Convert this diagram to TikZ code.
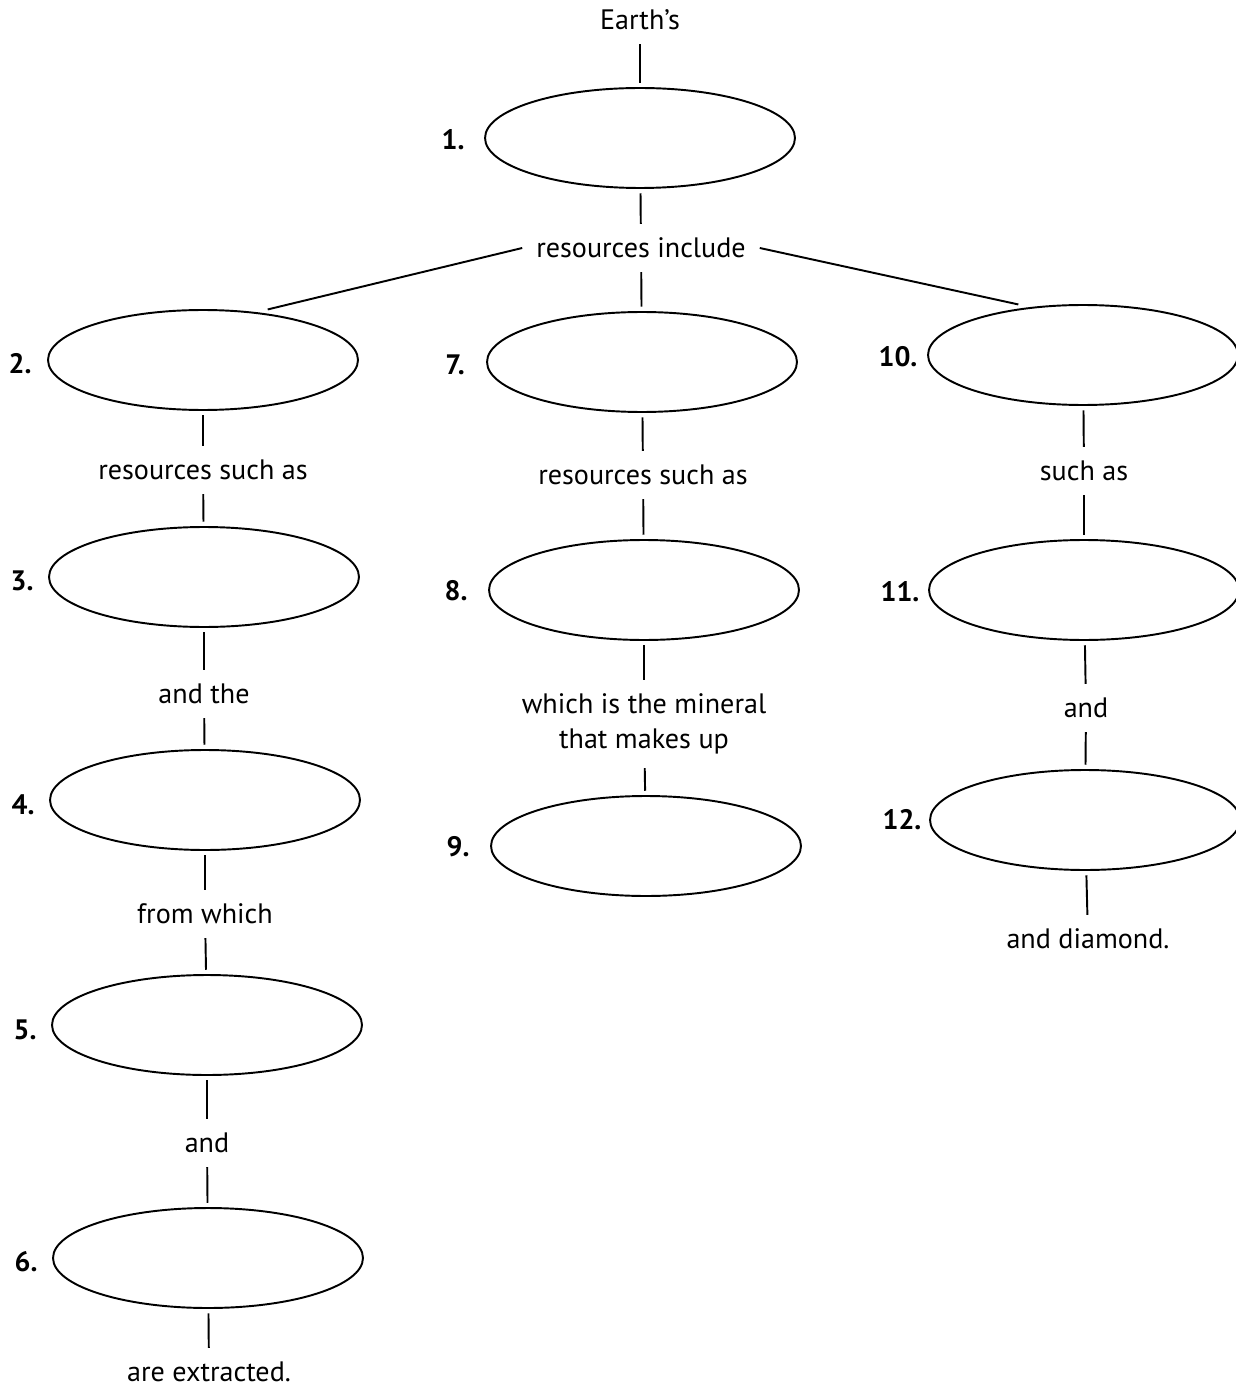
\documentclass[tikz,border=0pt]{standalone}
\usepackage{fontspec}
\setmainfont{PT Sans}
\usetikzlibrary{shapes.geometric}
\begin{document}
\begin{tikzpicture}[x=0.02cm,y=-0.02cm,
                     font=\fontsize{16}{19.8}\selectfont,line width=1.1pt,
                     blank node/.style={ellipse,draw,minimum width=6.2cm,minimum height=2cm,inner sep=0pt,outer sep=3pt},
                     link text/.style={inner sep=0pt,outer sep=8pt,align=center},
                     num label/.style={font=\fontsize{16}{19}\selectfont\bfseries}
                    ]
   \useasboundingbox (0,0) rectangle (1236,1388);
   % left column
   \node[blank node] (e2) at (203,360) {};
   \node[blank node] (e3) at (204,577) {};
   \node[blank node] (e4) at (205,800) {};
   \node[blank node] (e5) at (207,1025) {};
   \node[blank node] (e6) at (208,1258) {};
   \node[num label] (n2) at (20,364) {2.};
   \node[num label] (n3) at (22,581) {3.};
   \node[num label] (n4) at (23,805) {4.};
   \node[num label] (n5) at (25,1030) {5.};
   \node[num label] (n6) at (26,1262) {6.};
   \node[link text] (t2) at (203,470) {resources such as};
   \node[link text] (t3) at (204,694) {and the};
   \node[link text] (t4) at (205,914) {from which};
   \node[link text] (t5) at (207,1143) {and};
   \node[link text] (t6) at (209,1372) {are extracted.};
   % middle column
   \node[link text] (t0) at (640,20) {Earth’s};
   \node[blank node] (e1) at (640,138) {};
   \node[num label] (n1) at (453,140) {1.};
   \node[link text] (t1) at (641,248) {resources include};
   \node[blank node] (e7) at (642,362) {};
   \node[blank node] (e8) at (644,590) {};
   \node[blank node] (e9) at (646,846) {};
   \node[num label] (n7) at (455,365) {7.};
   \node[num label] (n8) at (456,591) {8.};
   \node[num label] (n9) at (458,847) {9.};
   \node[link text] (t7) at (643,475) {resources such as};
   \node[link text] (t8) at (644,724) {which is the mineral\\that makes up};
   % right column
   \node[blank node] (e10) at (1083,355) {};
   \node[blank node] (e11) at (1084,590) {};
   \node[blank node] (e12) at (1085,820) {};
   \node[num label] (n10) at (898,357) {10.};
   \node[num label] (n11) at (900,592) {11.};
   \node[num label] (n12) at (902,820) {12.};
   \node[link text] (t10) at (1084,471) {such as};
   \node[link text] (t11) at (1086,708) {and};
   \node[link text] (t12) at (1088,939) {and diamond.};
   \path%
     (t0) edge (e1)
     (e1) edge (t1)
     (t1.west) edge (e2.38)   %branches out of the top text
     (t1) edge (e7)
     (t1.east) edge (e10.142)
     (e2) edge (t2) (t2) edge (e3)
     (e3) edge (t3) (t3) edge (e4)
     (e4) edge (t4) (t4) edge (e5)
     (e5) edge (t5) (t5) edge (e6)
     (e6) edge (t6)
     (e7) edge (t7) (t7) edge (e8)
     (e8) edge (t8) (t8) edge (e9)
     (e10) edge (t10) (t10) edge (e11)
     (e11) edge (t11) (t11) edge (e12)
     (e12) edge (t12);
\end{tikzpicture}
\end{document}
